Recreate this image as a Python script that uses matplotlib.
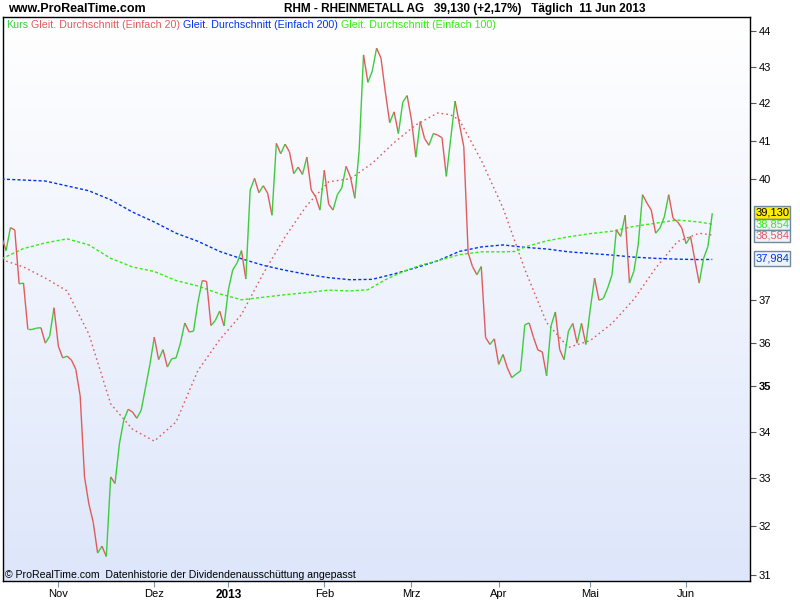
import numpy as np
import pandas as pd
import matplotlib
matplotlib.use('Agg')
import matplotlib.pyplot as plt
from matplotlib.collections import LineCollection
from matplotlib.colors import LinearSegmentedColormap
from matplotlib.ticker import NullLocator

plt.rcParams['font.family'] = ['Liberation Sans', 'DejaVu Sans']

# Xetra trading days 15 Oct 2012 .. 11 Jun 2013
holidays = ['2012-12-24', '2012-12-25', '2012-12-26', '2012-12-31', '2013-01-01',
            '2013-03-29', '2013-04-01', '2013-05-01']
days = pd.bdate_range('2012-10-15', '2013-06-11')
days = days[~days.isin(pd.to_datetime(holidays))]

# daily close, RHM
close = [38.53, 38.20, 38.77, 38.71, 37.39, 37.41, 36.31, 36.31, 36.34, 36.35,
         35.99, 36.15, 36.82, 35.92, 35.65, 35.69, 35.60, 35.39, 34.79, 33.02,
         32.45, 32.07, 31.44, 31.58, 31.37, 33.02, 32.88, 33.73, 34.25, 34.49,
         34.43, 34.29, 34.47, 34.98, 35.50, 36.13, 35.61, 35.84, 35.44, 35.63,
         35.65, 35.99, 36.46, 36.25, 36.27, 36.94, 37.47, 37.45, 36.40, 36.52,
         36.74, 36.39, 37.25, 37.73, 37.90, 38.20, 37.51, 39.72, 40.02, 39.65,
         39.83, 39.64, 39.08, 40.93, 40.66, 40.91, 40.71, 40.14, 40.31, 40.12,
         40.57, 39.72, 39.55, 39.21, 40.23, 39.36, 39.21, 39.60, 39.77, 40.33,
         40.05, 39.51, 40.75, 43.33, 42.57, 42.88, 43.52, 43.24, 42.31, 41.48,
         41.77, 41.19, 42.03, 42.21, 41.55, 40.57, 41.51, 41.06, 40.88, 41.19,
         41.15, 41.08, 40.07, 41.06, 42.06, 41.44, 40.84, 38.14, 37.81, 37.61,
         37.81, 36.12, 35.96, 36.09, 35.50, 35.73, 35.42, 35.20, 35.28, 35.35,
         36.42, 36.46, 36.12, 35.83, 35.79, 35.24, 36.39, 36.72, 35.84, 35.61,
         36.27, 36.45, 35.99, 36.45, 35.96, 36.78, 37.53, 37.00, 37.04, 37.29,
         37.61, 38.71, 38.55, 39.08, 37.41, 37.69, 38.34, 39.60, 39.39, 39.21,
         38.63, 38.76, 39.04, 39.60, 39.00, 38.92, 38.76, 38.37, 38.55, 37.97,
         37.41, 38.01, 38.30, 39.13]

# moving averages read at sample days
sma20_day = [0, 5, 10, 15, 20, 25, 30, 35, 40, 45, 50, 55, 60, 65, 70, 75, 80, 85,
             90, 95, 100, 103, 105, 110, 115, 120, 125, 130, 135, 140, 145, 150,
             155, 160, 163]
sma20 = [37.98, 37.80, 37.53, 37.22, 36.20, 34.61, 34.05, 33.79, 34.21, 35.36,
         36.07, 36.66, 37.64, 38.54, 39.33, 39.93, 40.01, 40.41, 40.95, 41.42,
         41.74, 41.69, 41.55, 40.49, 39.26, 37.74, 36.47, 35.89, 36.05, 36.45,
         37.02, 37.77, 38.42, 38.63, 38.584]

sma200_day = [0, 10, 20, 25, 30, 35, 40, 45, 50, 55, 60, 65, 70, 75, 80, 85, 90,
              95, 100, 105, 110, 115, 120, 125, 130, 135, 140, 145, 150, 155, 160, 163]
sma200 = [40.00, 39.95, 39.70, 39.47, 39.16, 38.91, 38.63, 38.43, 38.18, 38.00,
          37.84, 37.72, 37.62, 37.54, 37.49, 37.50, 37.63, 37.78, 37.95, 38.18,
          38.29, 38.34, 38.28, 38.24, 38.17, 38.13, 38.09, 38.04, 38.01, 37.99,
          37.98, 37.984]

sma100_day = [0, 5, 10, 15, 20, 25, 30, 35, 40, 45, 50, 55, 60, 65, 70, 75, 80, 84,
              88, 92, 96, 100, 105, 110, 115, 118, 120, 125, 130, 135, 140, 145,
              150, 155, 160, 163]
sma100 = [38.00, 38.25, 38.39, 38.49, 38.34, 38.01, 37.80, 37.69, 37.47, 37.34,
          37.15, 37.01, 37.07, 37.13, 37.18, 37.24, 37.22, 37.25, 37.49, 37.68,
          37.84, 37.95, 38.10, 38.17, 38.17, 38.18, 38.29, 38.44, 38.54, 38.62,
          38.68, 38.80, 38.88, 38.96, 38.91, 38.854]

month_names = {11: 'Nov', 12: 'Dez', 1: '2013', 2: 'Feb', 3: 'Mrz', 4: 'Apr',
               5: 'Mai', 6: 'Jun'}
y_ticks = [31, 32, 33, 34, 35, 36, 37, 40, 41, 42, 43, 44]

RED = '#e05c5c'
GREEN = '#3ccc3c'
BLUE = '#0033ee'
LGREEN = '#33ee11'

fig = plt.figure(figsize=(8, 6), dpi=100)
ax = fig.add_axes([3 / 800, 1 - 581 / 600, 747 / 800, 564 / 600])

# background gradient
grad = np.linspace(1, 0, 256).reshape(-1, 1)
cmap = LinearSegmentedColormap.from_list('bg', ['#dde6fa', '#ffffff'])
ax.imshow(grad, extent=[0, 1, 0, 1], transform=ax.transAxes, aspect='auto',
          cmap=cmap, zorder=0)

x = np.arange(len(close))
pts = np.column_stack([x, close])
segs = np.stack([pts[:-1], pts[1:]], axis=1)
cols = [GREEN if close[i + 1] >= close[i] else RED for i in range(len(close) - 1)]
ax.add_collection(LineCollection(segs, colors=cols, linewidths=1.0, zorder=4))

ax.plot(sma20_day, sma20, color=RED, lw=1.0, ls=(0, (1.2, 2.2)), zorder=3)
ax.plot(sma200_day, sma200, color=BLUE, lw=1.0, ls=(0, (2.2, 1.6)), zorder=3)
ax.plot(sma100_day, sma100, color=LGREEN, lw=1.0, ls=(0, (2.2, 1.6)), zorder=3)

ax.set_yscale('log')
ax.set_ylim(30.88, 44.40)
ax.set_xlim(0.3, 171.65)

ax.yaxis.tick_right()
ax.set_yticks(y_ticks)
ax.set_yticklabels([str(v) for v in y_ticks])
ax.yaxis.set_minor_locator(NullLocator())
ax.tick_params(axis='y', which='major', direction='out', length=4, width=0.8,
               color='#555555', labelsize=8, pad=2)
for lab in ax.get_yticklabels():
    if lab.get_text() == '35':
        lab.set_fontweight('bold')

month_pos, month_lab = [], []
for i in range(1, len(days)):
    if days[i].month != days[i - 1].month:
        month_pos.append(i)
        month_lab.append(month_names[days[i].month])
ax.set_xticks(month_pos)
ax.set_xticklabels(month_lab)
ax.tick_params(axis='x', direction='out', length=4, width=0.8, color='#7a98a8',
               labelsize=8, pad=1.5)
for lab in ax.get_xticklabels():
    if lab.get_text() == '2013':
        lab.set_fontweight('bold')
        lab.set_fontsize(8.5)

for s in ax.spines.values():
    s.set_color('black')
    s.set_linewidth(1.0)

# header
fig.text(8 / 800, 1 - 9 / 600, 'www.ProRealTime.com', fontsize=9, fontweight='bold',
         va='center', ha='left')
fig.text(284 / 800, 1 - 9 / 600,
         'RHM - RHEINMETALL AG   39,130 (+2,17%)   T\u00e4glich  11 Jun 2013',
         fontsize=8.5, fontweight='bold', va='center', ha='left')

fig.canvas.draw()
rend = fig.canvas.get_renderer()
legend_parts = [('Kurs', GREEN), ('Gleit. Durchschnitt (Einfach 20)', RED),
                ('Gleit. Durchschnitt (Einfach 200)', BLUE),
                ('Gleit. Durchschnitt (Einfach 100)', LGREEN)]
lx = 6
for txt, col in legend_parts:
    t = fig.text(lx / 800, 1 - 25 / 600, txt, color=col, fontsize=7.7, va='center',
                 ha='left')
    lx = t.get_window_extent(renderer=rend).x1 + 3

fig.text(5 / 800, 1 - 575 / 600,
         '\u00a9 ProRealTime.com  Datenhistorie der Dividendenausschüttung angepasst',
         fontsize=7.6, va='center', ha='left')

# last value boxes on the right axis
boxes = [(206, 219, '39,130', 'black', '#ffee00'),
         (219, 230, '38,854', LGREEN, '#eef2fb'),
         (230, 242, '38,584', RED, '#eef2fb'),
         (251, 266, '37,984', BLUE, '#eef2fb')]
for top, bot, txt, tc, bg in boxes:
    fig.patches.append(plt.Rectangle((754 / 800, 1 - bot / 600), 36 / 800,
                                     (bot - top) / 600, transform=fig.transFigure,
                                     facecolor=bg, edgecolor='#6f8c9c', lw=1.0))
    fig.text(756 / 800, 1 - (top + bot) / 2 / 600, txt, color=tc, fontsize=8,
             va='center', ha='left')

fig.savefig('out.png', dpi=100)
